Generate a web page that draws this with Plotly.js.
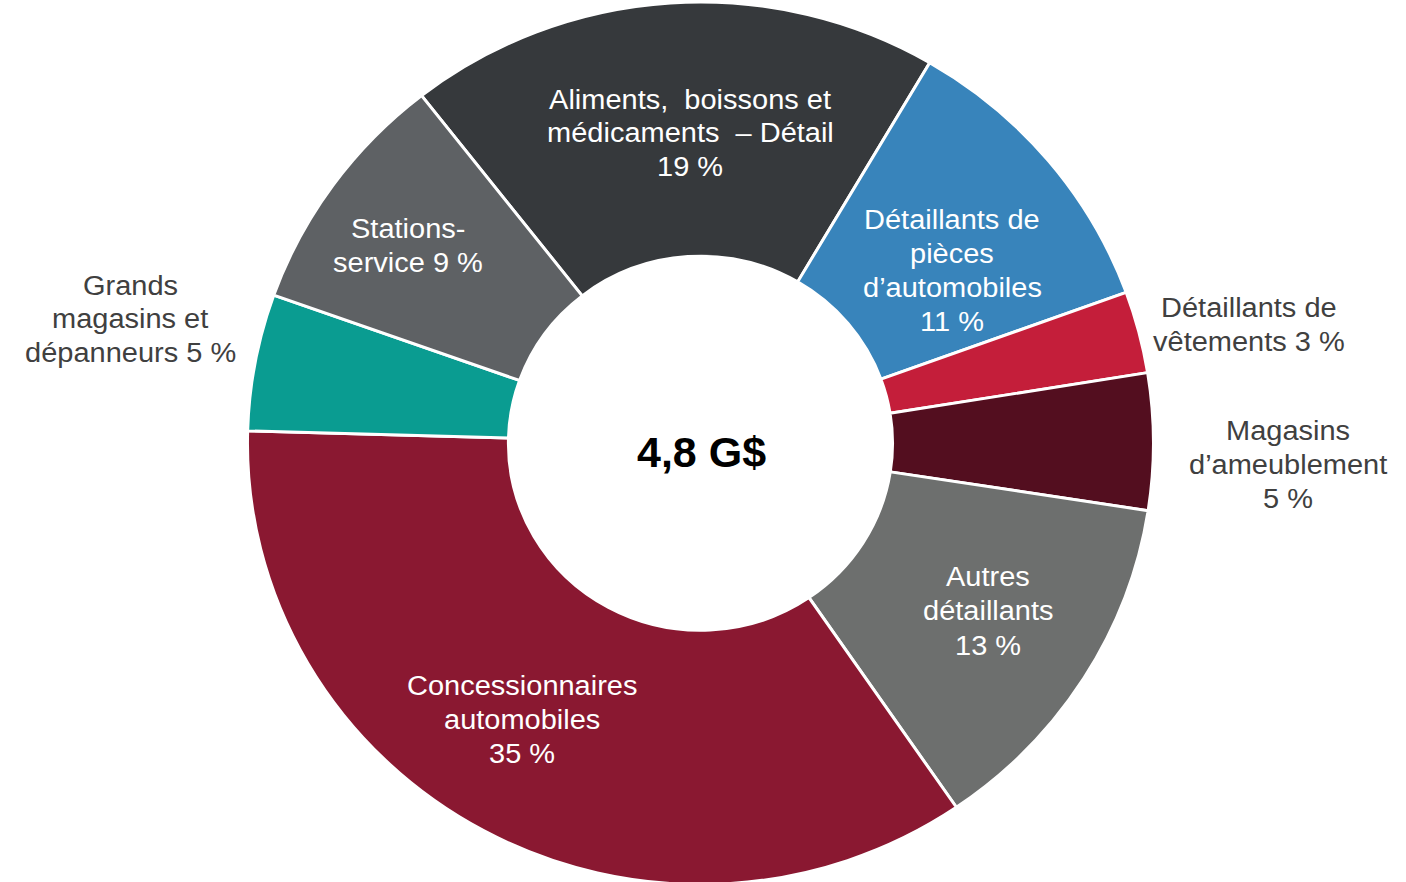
<!DOCTYPE html>
<html>
<head>
<meta charset="utf-8">
<script src="https://cdn.plot.ly/plotly-3.0.1.min.js"></script>
<style>
html,body{margin:0;padding:0;overflow:hidden;background:#fff;width:1406px;height:882px}
#chart{position:relative;top:2px;width:1406px;height:906px;transform:scale(1,0.974);transform-origin:0 0}
</style>
</head>
<body>
<div id="chart"></div>
<script>
// ---- data ----
const categories = [
  "Aliments, boissons et médicaments – Détail",
  "Détaillants de pièces d’automobiles",
  "Détaillants de vêtements",
  "Magasins d’ameublement",
  "Autres détaillants",
  "Concessionnaires automobiles",
  "Grands magasins et dépanneurs",
  "Stations-service"
];
const values = [19, 11, 3, 5, 13, 35, 5, 9];
const sliceColors = ["#36393c", "#3884bb", "#c41e3a", "#530e1f", "#6d6f6e", "#8a1831", "#0a9c91", "#5e6164"];
const labelLines = [
  ["Aliments,\u00a0 boissons et", "médicaments\u00a0 – Détail", "19 %"],
  ["Détaillants de", "pièces", "d’automobiles", "11 %"],
  ["Détaillants de", "vêtements 3 %"],
  ["Magasins", "d’ameublement", "5 %"],
  ["Autres", "détaillants", "13 %"],
  ["Concessionnaires", "automobiles", "35 %"],
  ["Grands", "magasins et", "dépanneurs 5 %"],
  ["Stations-", "service 9 %"]
];
const totalLabel = "4,8 G$";

// ---- layout config (screen pixel positions of label block centres) ----
const W = 1406, H = 906, SY = 0.974, OFFY = 2, LINE = 34;
const labelPos = [
  [690, 133, "#ffffff"],
  [952, 270, "#ffffff"],
  [1249, 324, "#404040"],
  [1288, 465, "#404040"],
  [988, 611, "#ffffff"],
  [522, 719, "#ffffff"],
  [130, 319, "#404040"],
  [408, 245, "#ffffff"]
];
const FONT = "Liberation Sans, Arial, sans-serif";

function toPaper(x, y) {
  return {x: x / W, y: 1 - ((y - OFFY) / SY) / H};
}

const annotations = [];
labelLines.forEach((lines, i) => {
  const [cx, cy, col] = labelPos[i];
  const n = lines.length;
  lines.forEach((t, k) => {
    const p = toPaper(cx, cy + (k - (n - 1) / 2) * LINE);
    annotations.push({
      x: p.x, y: p.y, xref: "paper", yref: "paper",
      text: t, showarrow: false, xanchor: "center", yanchor: "middle",
      font: {family: FONT, size: 29, color: col}
    });
  });
});
const c = toPaper(701, 452);
annotations.push({
  x: c.x, y: c.y, xref: "paper", yref: "paper",
  text: "<b>" + totalLabel + "</b>", showarrow: false,
  xanchor: "center", yanchor: "middle",
  font: {family: FONT, size: 43, color: "#000000"}
});

const trace = {
  type: "pie",
  labels: categories,
  values: values,
  sort: false,
  direction: "clockwise",
  rotation: -38,
  hole: 0.424,
  textinfo: "none",
  hoverinfo: "label+percent",
  marker: {colors: sliceColors, line: {color: "#ffffff", width: 3}},
  domain: {x: [0, 0.9964], y: [0, 1]},
  showlegend: false
};

const layout = {
  width: W, height: H,
  margin: {l: 0, r: 0, t: 0, b: 0, pad: 0},
  paper_bgcolor: "#ffffff",
  showlegend: false,
  annotations: annotations
};

Plotly.newPlot("chart", [trace], layout, {displayModeBar: false, staticPlot: true});
</script>
</body>
</html>
